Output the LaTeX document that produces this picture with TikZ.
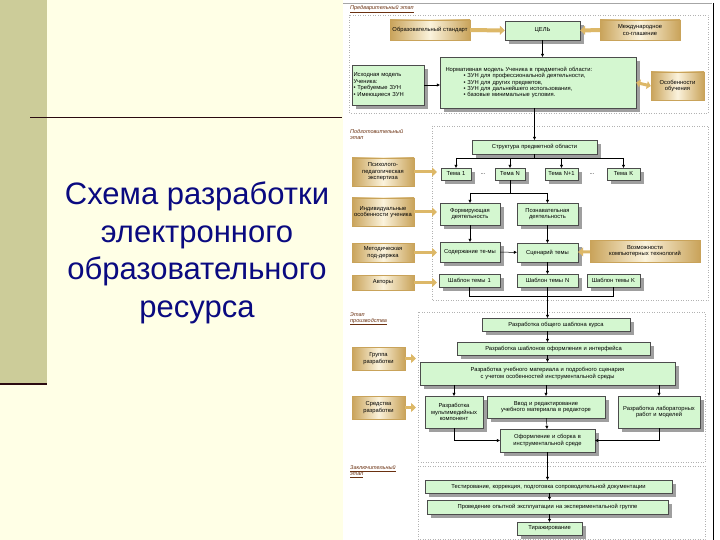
\documentclass[tikz,border=0pt]{standalone}
\usepackage{fontspec}
\setmainfont{Liberation Sans}
\usetikzlibrary{shadows,arrows.meta}
\definecolor{bgcream}{HTML}{FFFFE6}
\definecolor{khaki}{HTML}{CCCC99}
\definecolor{darkline}{HTML}{2A0A10}
\definecolor{navy}{HTML}{0A0A80}
\definecolor{gboxc}{HTML}{D4F7D0}
\definecolor{golddark}{HTML}{C9A35A}
\definecolor{goldlight}{HTML}{FBF3DC}
\definecolor{goldarrow}{HTML}{DDB868}
\definecolor{labbrown}{HTML}{6A3010}
\newcommand\bx[7]{%
  \pgfmathsetmacro\bw{#5-#3}\pgfmathsetmacro\bh{#6-#4}\pgfmathsetmacro\tw{#5-#3-3}%
  \node[#1,minimum width=\bw pt,minimum height=\bh pt,text width=\tw pt] (#2) at ({(#3+#5)/2},{(#4+#6)/2}) {#7};}
\tikzset{
  tiny/.style={font=\fontsize{5.8}{6.4}\selectfont},
  gbox/.style={tiny,draw=black!70,line width=0.3pt,fill=gboxc,inner sep=1pt,align=center,
     drop shadow={shadow xshift=4pt,shadow yshift=-4pt,fill=gray!75,opacity=1}},
  gold/.style={tiny,draw=golddark,line width=0.4pt,left color=golddark,right color=golddark,middle color=goldlight,inner sep=1pt,align=center},
  stage/.style={draw=gray!60,dotted,line width=0.5pt},
  conn/.style={-{Triangle[length=3pt,width=3pt]},line width=0.5pt},
  garr/.style={-{Triangle[length=5pt,width=9pt]},line width=4pt,goldarrow},
  slab/.style={font=\fontsize{5.5}{6}\selectfont\itshape,labbrown,align=left,anchor=north west,inner sep=0pt}
}
\begin{document}
\begin{tikzpicture}[x=1pt,y=-1pt]
\fill[bgcream] (0,0) rectangle (720,540);
\useasboundingbox (0,0) rectangle (720,540);
\fill[khaki] (0,0) rectangle (47,383);
\draw[darkline,line width=1.2pt] (0,384) -- (47,384);
\draw[darkline,line width=1pt] (30,118) -- (342,118);
\node[navy,font=\fontsize{31}{37.5}\selectfont,align=center] (title) at (197,253) {Схема разработки\\электронного\\образовательного\\ресурса};
% diagram panel
\fill[white] (343,0) rectangle (720,540);
\draw[gray!70,line width=0.5pt] (343,3) -- (712,3);
\draw[black,line width=0.8pt] (713,3) -- (713,540);
% ---------- Stage 1
\node[slab] (s1) at (350,5) {\underline{Предварительный этап}};
\draw[stage] (349,15) rectangle (708,113);
\bx{gold}{std}{390}{20}{470}{40}{Образовательный стандарт}
\bx{gbox}{goal}{505}{21}{580}{40}{ЦЕЛЬ}
\bx{gold}{intl}{600}{20}{680}{40}{Международное со-глашение}
\bx{gbox,align=left}{norm}{440}{57}{636}{108}{\hspace*{4pt}Нормативная модель Ученика в предметной области:\\
\hspace*{22pt}• ЗУН для профессиональной деятельности,\\
\hspace*{22pt}• ЗУН для других предметов,\\
\hspace*{22pt}• ЗУН для дальнейшего использования,\\
\hspace*{22pt}• базовые минимальные условия.}
\bx{gbox,align=left}{src}{352}{65}{424}{105}{Исходная модель Ученика:\\ • Требуемые ЗУН\\ • Имеющиеся ЗУН}
\bx{gold}{feat}{651}{72}{704}{100}{Особенности обучения}
\draw[garr] (std) -- (goal);
\draw[garr] (intl) -- (goal);
\draw[garr,{Triangle[length=4pt,width=8pt]}-{Triangle[length=4pt,width=8pt]},line width=3pt] (norm.east) -- (feat.west);
\draw[conn] (goal) -- (goal |- norm.north);
\draw[conn] (src) -- (norm.west |- src);
% ---------- Stage 2
\node[slab] (s2) at (350,129) {Подготовительный\\этап};
\draw[stage] (432,126) rectangle (708,300);
\bx{gbox}{struct}{472}{140}{597}{154}{Структура предметной области}
\draw[conn] (struct.north |- norm.south) -- (struct.north);
\bx{gbox}{t1}{441}{168}{471}{180}{Тема 1}
\bx{gbox}{tn}{495}{168}{525}{180}{Тема N}
\bx{gbox}{tn1}{545}{168}{578}{180}{Тема N+1}
\bx{gbox}{tk}{607}{168}{640}{180}{Тема K}
\node[tiny] (d1) at (483,174) {...};
\node[tiny] (d2) at (592,174) {...};
\coordinate (br1) at (struct.south |- 0,158);
\draw[line width=0.5pt] (t1.north |- br1) -- (tk.north |- br1);
\foreach \t in {t1,tn,tn1,tk} \draw[conn] (\t.north |- br1) -- (\t.north);
\draw[line width=0.5pt] (struct.south) -- (br1);
\bx{gold}{psy}{352}{158}{414}{186}{Психолого-педагогическая экспертиза}
\bx{gold}{ind}{352}{198}{414}{226}{Индивидуальные особенности ученика}
\bx{gold}{met}{352}{243}{414}{262}{Методическая под-держка}
\bx{gold}{auth}{352}{275}{414}{290}{Авторы}
\foreach \g in {psy,ind,met,auth} {\coordinate (\g e) at (437,0); \draw[garr,line width=3pt] (\g.east) -- (\g e |- \g.east);}
\bx{gbox}{form}{440}{203}{500}{225}{Формирующая деятельность}
\bx{gbox}{cogn}{517}{203}{578}{225}{Познавательная деятельность}
\coordinate (br2) at (tn.south |- 0,193);
\draw[line width=0.5pt] (tn.south) -- (br2);
\draw[line width=0.5pt] (form.north |- br2) -- (cogn.north |- br2);
\draw[conn] (form.north |- br2) -- (form.north);
\draw[conn] (cogn.north |- br2) -- (cogn.north);
\bx{gbox}{cont}{440}{242}{500}{262}{Содержание те-мы}
\bx{gbox}{scen}{517}{243}{578}{262}{Сценарий темы}
\bx{gold}{comp}{590}{240}{700}{262}{Возможности компьютерных технологий}
\draw[conn] (form) -- (cont);
\draw[conn] (cogn) -- (scen);
\draw[conn] (cont) -- (scen);
\draw[garr,line width=3pt] (comp) -- (scen);
\bx{gbox}{sh1}{439}{274}{500}{287}{Шаблон темы 1}
\bx{gbox}{shn}{517}{274}{578}{287}{Шаблон темы N}
\bx{gbox}{shk}{587}{274}{640}{287}{Шаблон темы K}
\draw[conn] (scen) -- (shn);
\coordinate (br3) at (shn.south |- 0,296);
\draw[line width=0.5pt] (sh1.south) -- (sh1.south |- br3) -- (shk.south |- br3) -- (shk.south);
\draw[line width=0.5pt] (shn.south) -- (br3);
% ---------- Stage 3
\node[slab] (s3) at (350,312) {Этап\\\underline{производства}};
\draw[stage] (418,312) rectangle (705,462);
\bx{gbox}{gen}{482}{318}{630}{331}{Разработка общего шаблона курса}
\bx{gbox}{iface}{457}{342}{650}{355}{Разработка шаблонов оформления и интерфейса}
\bx{gbox}{mat}{420}{362}{675}{385}{Разработка учебного материала и подробного сценария с учетом особенностей инструментальной среды}
\bx{gold}{grp}{352}{347}{405}{370}{Группа разработки}
\bx{gold}{tools}{352}{396}{405}{419}{Средства разработки}
\foreach \g in {grp,tools} {\coordinate (\g e) at (416,0); \draw[garr,line width=3pt] (\g.east) -- (\g e |- \g.east);}
\draw[conn] (br3) -- (br3 |- gen.north);
\draw[conn] (br3 |- gen.south) -- (br3 |- iface.north);
\draw[conn] (br3 |- iface.south) -- (br3 |- mat.north);
\bx{gbox}{mm}{425}{396}{483}{428}{Разработка мультимедийных компонент}
\bx{gbox}{edit}{487}{396}{605}{418}{Ввод и редактирование учебного материала в редакторе}
\bx{gbox}{lab}{618}{396}{700}{428}{Разработка лабораторных работ и моделей}
\bx{gbox}{asm}{500}{429}{595}{452}{Оформление и сборка в инструментальной среде}
\draw[conn] (mat.south -| mm) -- (mm.north);
\draw[conn] (mat.south -| edit) -- (edit.north);
\draw[conn] (mat.south -| lab) -- (lab.north);
\draw[conn] (edit) -- (asm);
\draw[conn] (mm.south) |- (asm.west);
\draw[conn] (lab.south) |- (asm.east);
% ---------- Stage 4
\node[slab] (s4) at (350,465) {\underline{Заключительный}\\\underline{этап}};
\draw[stage] (418,466) rectangle (705,539);
\bx{gbox}{test}{425}{480}{672}{493}{Тестирование, коррекция, подготовка сопроводительной документации}
\bx{gbox}{pilot}{427}{500}{668}{514}{Проведение опытной эксплуатации на экспериментальной группе}
\bx{gbox}{repl}{517}{522}{582}{535}{Тиражирование}
\draw[conn] (asm) -- (asm |- test.north);
\draw[conn] (test.south -| repl) -- (pilot.north -| repl);
\draw[conn] (pilot.south -| repl) -- (repl.north);
\end{tikzpicture}
\end{document}
